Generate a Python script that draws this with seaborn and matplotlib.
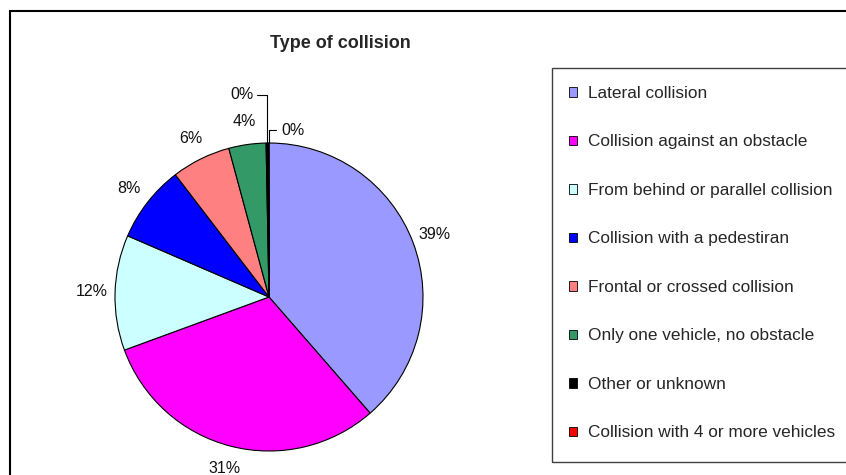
import matplotlib
matplotlib.use("Agg")
import matplotlib.pyplot as plt
import seaborn as sns
import numpy as np
from matplotlib.patches import Rectangle, Patch

categories = [
    "Lateral collision",
    "Collision against an obstacle",
    "From behind or parallel collision",
    "Collision with a pedestiran",
    "Frontal or crossed collision",
    "Only one vehicle, no obstacle",
    "Other or unknown",
    "Collision with 4 or more vehicles",
]
shares = [38.6, 30.8, 12.1, 8.1, 6.2, 3.9, 0.25, 0.05]
colours = ["#9999FF", "#FF00FF", "#CCFFFF", "#0000FF",
           "#FF8080", "#339966", "#000000", "#FF0000"]
title = "Type of collision"

sns.set_style("white")
plt.rcParams["font.family"] = ["Liberation Sans", "DejaVu Sans"]

W, H = 846, 475
fig = plt.figure(figsize=(W / 100, H / 100), dpi=100)

# pie centre (269, 297) px, radius 154 px
cx, cy, r = 269, 297, 154
ax = fig.add_axes([(cx - r) / W, (H - cy - r) / H, 2 * r / W, 2 * r / H])
wedges, texts, autotexts = ax.pie(
    shares, colors=colours, startangle=90, counterclock=False,
    autopct="%.0f%%", pctdistance=1.15, radius=1,
    wedgeprops=dict(edgecolor="black", linewidth=0.8),
    textprops=dict(fontsize=11.5, color="#111111"),
)
ax.set_xlim(-1, 1)
ax.set_ylim(-1, 1)
ax.set_aspect("equal")
ax.axis("off")

# the two tiny slices get labels pulled out with leader lines
offsets = [((-0.175, 1.312), (-0.078, 1.312)), ((0.155, 1.084), (0.045, 1.084))]
for w, t, (txt_xy, line_start) in zip(wedges[-2:], autotexts[-2:], offsets):
    ang = np.deg2rad((w.theta1 + w.theta2) / 2)
    ax_x, ax_y = np.cos(ang), np.sin(ang)
    t.set_position(txt_xy)
    ax.plot([line_start[0], ax_x, ax_x], [line_start[1], line_start[1], ax_y],
            color="black", linewidth=0.8, clip_on=False)

# outer frame
fig.patches.append(Rectangle((10 / W, -0.1), 2, 1 - 11 / H + 0.1,
                             transform=fig.transFigure, fill=False,
                             edgecolor="black", linewidth=1.5))
# legend frame
fig.patches.append(Rectangle((552 / W, 1 - 462 / H), 1, (462 - 68) / H,
                             transform=fig.transFigure, fill=False,
                             edgecolor="#404040", linewidth=1.0))

fig.text(340 / W, 1 - 44 / H, title, ha="center", va="center",
         fontsize=13, fontweight="bold")

handles = [Patch(facecolor=c, edgecolor="black", linewidth=0.6) for c in colours]
fig.legend(handles, categories, loc="upper left",
           bbox_to_anchor=(569 / W, 1 - 86 / H), frameon=False,
           fontsize=12.4, handlelength=0.48, handleheight=0.48,
           handletextpad=0.6, labelspacing=1.945, borderpad=0, borderaxespad=0)

fig.savefig("out.png", dpi=100, facecolor="white")
